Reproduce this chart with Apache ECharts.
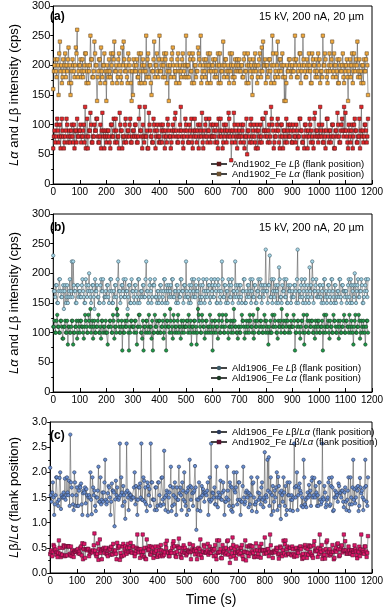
<!DOCTYPE html>
<html>
<head>
<meta charset="utf-8">
<script src="https://cdn.jsdelivr.net/npm/echarts@6/dist/echarts.min.js"></script>
<style>
  html, body { margin: 0; padding: 0; background: #fff; }
  #main { width: 387px; height: 610px; }
</style>
</head>
<body>
<div id="main"></div>
<script>
// readings every 2.5 s; "_0" lists hold the ones at 0, 5, 10 ... s,
// "_25" lists the ones in between (2.5, 7.5, 12.5 ... s)
const T_STEP = 2.5;

// panel (a) And1902, counts (cps)
const and1902_Lb_0 = [
  60,90,80,110,70,100,80,90,60,80,110,70,90,80,100,70,60,90,110,80,
  90,70,80,100,130,80,60,90,120,70,80,100,90,110,70,80,60,120,90,80,
  70,90,80,60,100,80,90,110,70,80,120,90,60,80,100,70,90,80,110,70,
  90,80,100,70,80,130,90,60,80,130,80,60,120,90,80,70,100,60,90,80,
  80,100,70,90,60,80,110,90,80,70,100,90,120,80,70,90,130,80,60,90,
  100,80,70,90,110,60,80,90,70,100,80,90,120,60,80,110,70,90,80,100,
  80,90,70,100,60,80,110,90,70,80,100,90,120,80,40,90,120,70,80,100,
  90,70,80,100,60,80,50,90,70,110,80,100,70,90,60,80,100,70,110,90,
  120,80,90,70,130,100,60,80,90,110,70,80,100,60,90,80,70,100,80,90,
  70,90,80,100,60,80,110,90,70,60,100,80,90,110,70,80,60,120,90,80,
  100,130,80,70,90,60,110,80,90,70,100,80,60,90,120,80,70,100,90,130,
  120,80,60,90,70,100,80,110,90,70,80,60,130,90,80,100,70,110
];
const and1902_Lb_25 = [
  80,70,100,90,80,60,110,80,70,90,100,80,70,90,80,100,90,70,80,90,
  100,80,90,70,60,110,80,90,100,70,80,90,110,80,70,100,90,80,60,90,
  80,90,70,100,80,110,70,90,80,60,100,90,80,70,110,80,90,100,70,80,
  90,100,80,70,110,90,80,100,70,80,90,60,100,80,70,110,90,80,100,70,
  70,90,100,80,90,70,100,80,60,90,80,110,90,70,80,100,90,70,80,110,
  90,70,100,80,70,90,110,80,90,60,100,80,70,90,100,80,90,110,70,80,
  100,80,90,70,110,90,80,60,100,90,70,80,110,90,70,80,100,90,60,80,
  80,100,90,70,80,110,90,80,100,70,90,80,60,100,90,70,80,110,90,80,
  90,70,100,80,110,90,70,80,100,90,60,100,80,90,70,110,90,80,100,70,
  100,80,70,90,80,110,90,70,80,100,90,60,80,100,90,70,110,80,90,70,
  80,90,100,70,80,90,110,70,90,80,100,60,90,80,100,70,90,110,80,90,
  90,70,100,80,90,60,100,90,70,80,110,90,80,70,100,90,80
];
const and1902_La_0 = [
  160,200,190,210,150,240,200,180,190,220,200,210,170,150,190,200,180,230,260,190,
  200,180,210,190,220,170,200,190,250,210,180,240,200,140,190,210,230,180,200,170,
  140,190,210,180,200,220,240,190,170,210,200,180,230,240,190,200,170,210,190,140,
  150,200,190,210,180,170,220,200,190,170,250,210,180,200,150,190,240,200,220,180,
  250,190,210,200,180,220,190,140,200,210,230,180,190,200,220,170,190,210,200,180,
  250,200,180,210,190,220,170,200,190,230,210,250,180,200,190,210,170,200,220,190,
  200,190,210,180,220,200,170,190,240,200,210,180,190,220,200,180,170,210,200,190,
  210,190,200,180,220,190,200,170,210,200,150,190,220,200,180,210,190,230,240,200,
  170,200,190,210,170,250,200,180,220,240,190,210,200,180,140,140,200,190,210,180,
  200,190,250,210,180,200,220,190,250,200,180,210,190,200,170,220,200,190,210,180,
  200,170,190,250,200,210,180,190,220,200,240,190,200,180,210,170,200,190,220,170,
  190,210,140,200,180,220,190,200,210,240,190,180,170,200,210,190,220,150
];
const and1902_La_25 = [
  190,210,180,200,220,190,170,210,200,180,190,230,200,170,210,190,200,220,180,200,
  210,190,180,200,220,190,170,200,210,180,190,220,200,180,210,170,190,200,220,190,
  200,180,190,220,170,210,190,200,180,220,190,170,200,210,190,180,220,200,170,190,
  210,190,200,180,220,190,170,210,200,190,180,220,200,170,190,210,180,200,190,210,
  190,200,180,220,210,170,200,190,180,220,200,190,170,210,190,200,180,220,190,200,
  180,200,220,190,170,210,200,180,190,220,200,170,190,210,180,200,220,190,170,200,
  210,180,190,200,170,220,190,200,180,210,190,200,170,190,220,200,180,190,210,200,
  190,200,180,210,190,170,220,200,190,180,210,200,190,170,200,220,180,190,200,210,
  200,180,210,190,200,220,170,190,200,180,210,190,220,200,180,170,190,210,200,190,
  190,210,200,180,190,220,170,200,210,190,180,200,220,190,170,210,200,180,190,220,
  210,190,180,200,220,190,170,200,190,210,180,220,200,190,170,210,190,200,180,200,
  200,180,190,210,200,170,220,190,200,180,210,190,200,170,190,210,200
];

// panel (b) Ald1906, counts (cps)
const ald1906_Lb_0 = [
  230,170,180,150,170,190,160,170,140,180,160,150,170,160,220,220,170,150,180,160,
  170,160,190,160,150,180,170,200,160,170,180,140,170,180,160,150,190,170,150,160,
  160,180,150,190,170,150,160,180,130,220,170,160,180,190,160,170,140,180,150,190,
  170,150,180,160,190,150,170,160,180,160,220,170,160,190,150,180,180,160,150,170,
  160,180,150,170,190,170,150,180,170,160,190,160,170,180,150,160,190,170,150,180,
  220,160,150,170,180,160,190,160,170,120,150,180,160,190,150,170,160,180,150,190,
  180,160,180,150,190,170,150,220,160,180,150,170,190,160,180,150,170,220,160,180,
  160,180,150,170,190,150,160,180,170,150,190,160,180,150,170,160,190,150,180,170,
  240,170,180,230,160,150,190,170,150,180,210,160,150,170,190,160,150,180,170,150,
  170,160,180,150,240,170,160,190,150,180,150,170,160,210,180,220,150,170,190,160,
  160,180,150,180,190,160,150,180,170,150,190,160,180,150,170,160,190,150,180,170,
  170,150,180,160,190,150,180,200,150,180,160,170,190,150,160,180,170,190
];
const ald1906_Lb_25 = [
  170,160,180,150,190,170,160,180,170,150,180,160,190,170,160,180,170,150,180,170,
  160,180,170,150,190,160,180,170,150,180,160,190,170,160,150,180,170,190,160,170,
  180,160,170,190,150,170,180,160,190,170,150,180,170,160,190,170,160,180,150,170,
  160,180,170,150,190,160,170,180,160,190,170,150,180,170,160,180,190,160,170,150,
  180,170,160,190,150,180,170,160,180,190,160,170,150,180,170,160,190,170,180,160,
  170,160,180,150,190,170,160,180,170,190,160,150,180,170,160,190,170,180,160,170,
  160,190,170,150,180,160,170,190,160,180,170,150,180,160,190,170,160,180,170,150,
  180,160,170,190,150,170,180,160,190,170,160,180,150,170,190,160,180,170,160,180,
  170,150,180,160,190,170,160,180,170,150,190,160,180,170,160,190,150,170,180,160,
  160,180,170,190,150,170,180,160,170,190,160,180,150,170,160,190,170,180,160,170,
  180,160,170,150,190,170,160,180,160,190,170,150,180,160,170,190,160,180,170,160,
  170,160,190,150,180,170,160,180,170,190,160,170,180,150,170,190,160
];
const ald1906_La_0 = [
  110,120,100,130,110,100,120,90,110,120,100,80,110,100,120,80,100,110,90,120,
  100,120,110,90,130,110,100,120,140,110,90,120,100,110,130,100,90,120,110,100,
  100,80,110,120,100,130,90,110,140,120,100,110,70,100,120,110,130,70,100,120,
  110,100,120,80,110,130,100,90,70,110,120,100,130,110,90,70,100,110,120,100,
  120,100,110,90,130,70,120,110,140,100,90,120,110,100,130,110,90,100,120,110,
  110,120,130,100,80,110,120,100,80,140,120,100,130,110,90,120,100,110,130,100,
  70,100,120,110,90,130,100,120,110,100,130,120,90,110,100,120,140,110,100,90,
  110,100,130,120,90,110,100,120,130,110,100,90,120,110,140,100,120,110,100,130,
  100,110,80,100,100,130,110,120,100,90,110,120,140,110,100,120,130,100,110,120,
  110,130,70,100,120,110,90,120,100,80,110,130,100,120,110,120,100,90,110,120,
  120,100,110,70,130,100,110,120,90,110,100,130,120,100,110,90,120,100,110,130,
  100,120,110,130,100,110,80,120,100,110,130,90,120,100,110,80,120,100
];
const ald1906_La_25 = [
  110,100,120,110,100,120,110,90,110,100,120,110,100,110,120,100,110,120,100,110,
  120,110,100,110,120,100,130,110,100,120,110,100,110,120,100,110,120,100,110,120,
  100,110,120,110,100,120,110,100,130,110,100,120,110,100,110,120,100,110,120,110,
  110,120,100,110,130,110,100,120,110,100,120,110,100,110,120,100,130,110,100,120,
  100,110,120,100,110,120,110,100,120,110,130,100,110,120,100,110,120,110,100,110,
  120,100,110,120,110,100,120,110,100,130,110,100,120,110,100,120,110,100,110,120,
  110,120,100,110,120,100,110,130,100,110,120,100,110,120,110,100,120,110,100,110,
  100,110,120,110,100,120,110,100,120,110,130,100,110,120,100,110,120,100,110,120,
  120,100,110,120,100,110,130,110,100,120,110,100,110,120,100,110,120,110,100,110,
  110,120,100,110,120,100,110,120,130,100,110,120,100,110,120,100,110,120,100,110,
  100,110,120,100,110,130,110,100,120,110,100,120,110,100,120,110,100,110,120,100,
  120,110,100,110,120,100,110,130,100,110,120,100,110,120,100,110,120
];

const FONT = "'Liberation Sans', Arial, sans-serif";

// put the two interleaved reading lists back in time order
function merge(on, off) {
  const out = [];
  on.forEach((v, i) => {
    out.push(v);
    if (i < off.length) out.push(off[i]);
  });
  return out;
}

const and1902_Lb = merge(and1902_Lb_0, and1902_Lb_25);
const and1902_La = merge(and1902_La_0, and1902_La_25);
const ald1906_Lb = merge(ald1906_Lb_0, ald1906_Lb_25);
const ald1906_La = merge(ald1906_La_0, ald1906_La_25);

function pairs(vals) {
  return vals.map((v, i) => [i * T_STEP, v]);
}
function ratio(num, den) {
  return num.map((v, i) => [i * T_STEP, v / den[i]]);
}

function xAxis(idx, withName) {
  return {
    type: "value",
    gridIndex: idx,
    min: 0,
    max: 1200,
    interval: 100,
    axisLine: { onZero: false, lineStyle: { color: "#000", width: 1 } },
    axisTick: { inside: true, length: 4, lineStyle: { color: "#000" } },
    axisLabel: {
      color: "#000", fontSize: 10, fontFamily: FONT, margin: 3,
      formatter: (v) => String(v),
    },
    splitLine: { show: false },
    name: withName ? "Time (s)" : "",
    nameLocation: "middle",
    nameGap: 20,
    nameTextStyle: { color: "#000", fontSize: 14, fontFamily: FONT },
  };
}

function yAxis(idx, max, interval, name, fmt) {
  return {
    type: "value",
    gridIndex: idx,
    min: 0,
    max: max,
    interval: interval,
    axisLine: { show: true, onZero: false, lineStyle: { color: "#000", width: 1 } },
    axisTick: { show: true, length: 3, lineStyle: { color: "#000" } },
    minorTick: { show: true, splitNumber: 2, length: 2, lineStyle: { color: "#000" } },
    axisLabel: { color: "#000", fontSize: 11, fontFamily: FONT, margin: 3, formatter: fmt },
    splitLine: { show: false },
    name: name,
    nameLocation: "middle",
    nameGap: 27,
    nameTextStyle: { color: "#000", fontSize: 13, fontFamily: FONT, rich: {
      i: { fontStyle: "italic", fontSize: 13, fontFamily: FONT, color: "#000" },
    } },
  };
}

function series(name, data, xi, symbol, fill, border) {
  return {
    name: name,
    type: "line",
    xAxisIndex: xi,
    yAxisIndex: xi,
    data: data,
    symbol: symbol,
    symbolSize: 3.4,
    showAllSymbol: true,
    showSymbol: true,
    lineStyle: { color: "#444", width: 0.5 },
    itemStyle: { color: fill, borderColor: border, borderWidth: 0.6 },
    emphasis: { disabled: true },
  };
}

// one legend box per entry so the rows keep a fixed spacing
function legendItem(top, name) {
  return {
    left: 210,
    top: top,
    padding: 0,
    itemWidth: 16,
    itemHeight: 3,
    data: [name],
    textStyle: {
      color: "#000",
      fontSize: 9.5,
      fontFamily: FONT,
      rich: { i: { fontStyle: "italic", fontSize: 9.5, fontFamily: FONT, color: "#000" } },
    },
    formatter: (n) => n.replace(/ L/g, " {i|L}").replace("/L", "/{i|L}").replace("α", "{i|α}"),
  };
}

function tag(x, y, text, bold, align) {
  return {
    type: "text",
    x: x,
    y: y,
    style: {
      text: text,
      fill: "#000",
      font: (bold ? "bold 12px " : "11px ") + FONT,
      textAlign: align || "left",
      textVerticalAlign: "middle",
    },
  };
}

const option = {
  animation: false,
  grid: [
    { left: 44, right: 15, top: 6, height: 178, show: true, borderColor: "#000", borderWidth: 1 },
    { left: 44, right: 15, top: 214, height: 178, show: true, borderColor: "#000", borderWidth: 1 },
    { left: 44, right: 15, top: 422, height: 151, show: true, borderColor: "#000", borderWidth: 1 },
  ],
  xAxis: [xAxis(0, false), xAxis(1, false), xAxis(2, true)],
  yAxis: [
    yAxis(0, 300, 50, "{i|Lα} and {i|L}β intensity (cps)"),
    yAxis(1, 300, 50, "{i|Lα} and {i|L}β intensity (cps)"),
    yAxis(2, 3, 0.5, "{i|L}β/{i|Lα} (flank position)", (v) => v.toFixed(1)),
  ],
  legend: [
    legendItem(159, "And1902_Fe Lβ (flank position)"),
    legendItem(169, "And1902_Fe Lα (flank position)"),
    legendItem(363, "Ald1906_Fe Lβ (flank position)"),
    legendItem(373, "Ald1906_Fe Lα (flank position)"),
    legendItem(427, "Ald1906_Fe Lβ/Lα (flank position)"),
    legendItem(437, "And1902_Fe Lβ/Lα (flank position)"),
  ],
  graphic: [
    tag(50, 17, "(a)", true),
    tag(364, 17, "15 kV, 200 nA, 20 µm", false, "right"),
    tag(50, 228, "(b)", true),
    tag(364, 228, "15 kV, 200 nA, 20 µm", false, "right"),
    tag(50, 436, "(c)", true),
  ],
  series: [
    series("And1902_Fe Lβ (flank position)", pairs(and1902_Lb), 0, "rect", "#e8262a", "#5a1a1a"),
    series("And1902_Fe Lα (flank position)", pairs(and1902_La), 0, "rect", "#f2aa3c", "#6a5030"),
    series("Ald1906_Fe Lβ (flank position)", pairs(ald1906_Lb), 1, "circle", "#a6d6e8", "#3c5a66"),
    series("Ald1906_Fe Lα (flank position)", pairs(ald1906_La), 1, "circle", "#1f9a4a", "#1d3a24"),
    series("Ald1906_Fe Lβ/Lα (flank position)", ratio(ald1906_Lb, ald1906_La), 2, "circle", "#6a8fd2", "#2a3a5a"),
    series("And1902_Fe Lβ/Lα (flank position)", ratio(and1902_Lb, and1902_La), 2, "rect", "#e2156a", "#5a1030"),
  ],
};

const myChart = echarts.init(document.getElementById("main"));
myChart.setOption(option);
</script>
</body>
</html>
